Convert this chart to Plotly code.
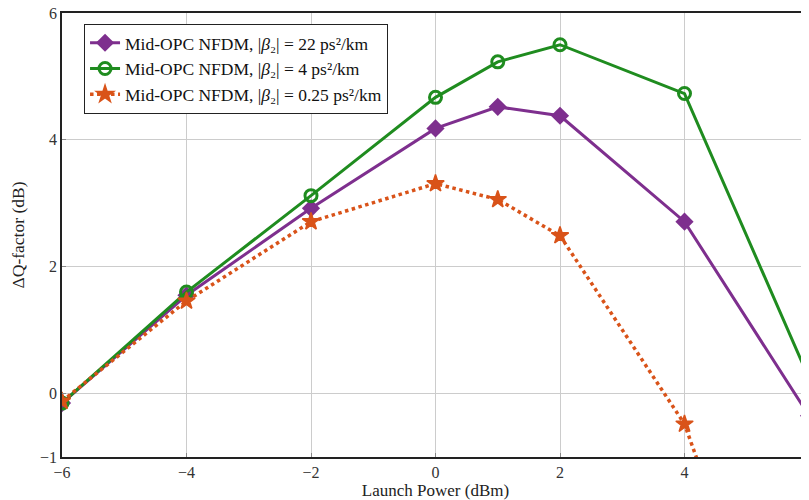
import plotly.graph_objects as go

x = [-6, -4, -2, 0, 1, 2, 4, 6]
q_22 = [-0.15, 1.55, 2.92, 4.18, 4.52, 4.38, 2.71, -0.35]
q_4 = [-0.15, 1.6, 3.12, 4.67, 5.23, 5.5, 4.73, 0.24]
q_025 = [-0.12, 1.46, 2.71, 3.31, 3.06, 2.49, -0.48, -6.0]

names = [
    "Mid-OPC NFDM, |<i>β</i>\u2082| = 22 ps\u00b2/km",
    "Mid-OPC NFDM, |<i>β</i>\u2082| = 4 ps\u00b2/km",
    "Mid-OPC NFDM, |<i>β</i>\u2082| = 0.25 ps\u00b2/km",
]
xticks = [-6, -4, -2, 0, 2, 4, 6]
yticks = [-1, 0, 2, 4, 6]

purple = "#7E2F8E"
green = "#1F8C1F"
orange = "#D95319"

FONT = "Liberation Serif"

fig = go.Figure()
fig.add_trace(go.Scatter(
    x=x, y=q_22, name=names[0], mode="lines+markers",
    line=dict(color=purple, width=3),
    marker=dict(symbol="diamond", size=14, color=purple),
))
fig.add_trace(go.Scatter(
    x=x, y=q_4, name=names[1], mode="lines+markers",
    line=dict(color=green, width=3),
    marker=dict(symbol="circle-open", size=12, color=green, line=dict(width=3)),
))
fig.add_trace(go.Scatter(
    x=x, y=q_025, name=names[2], mode="lines+markers",
    line=dict(color=orange, width=3.5, dash="dot"),
    marker=dict(symbol="star", size=13, color=orange, line=dict(color=orange, width=1.5)),
))

def tl(v):
    return ("\u2212" + str(abs(v))) if v < 0 else str(v)

fig.update_layout(
    width=801, height=492,
    margin=dict(l=54, r=0, t=5, b=43, autoexpand=False),
    paper_bgcolor="white", plot_bgcolor="white",
    font=dict(family=FONT, size=16, color="#222"),
    showlegend=True,
    legend=dict(
        x=0.0295, y=0.9755, xanchor="left", yanchor="top",
        bordercolor="#222", borderwidth=1, bgcolor="white",
        font=dict(family=FONT, size=17.5, color="#111"),
        tracegroupgap=0, itemwidth=30,
    ),
)
fig.update_xaxes(
    range=[-6, 6], tickvals=xticks, ticktext=[tl(v) for v in xticks],
    showgrid=True, gridcolor="#cccccc", gridwidth=1,
    showline=True, linecolor="#222", linewidth=1.5, mirror=True,
    ticks="inside", ticklen=4, tickcolor="#888",
    zeroline=False, automargin=False, ticklabeloverflow="allow",
    tickfont=dict(family=FONT, size=16, color="#333"),
    title=dict(text="Launch Power (dBm)", font=dict(family=FONT, size=17, color="#222"), standoff=7),
)
fig.update_yaxes(
    range=[-1, 6], tickvals=yticks, ticktext=[tl(v) for v in yticks],
    showgrid=True, gridcolor="#cccccc", gridwidth=1,
    showline=True, linecolor="#222", linewidth=1.5, mirror=True,
    ticks="inside", ticklen=4, tickcolor="#888",
    zeroline=False, automargin=False, ticklabeloverflow="allow",
    tickfont=dict(family=FONT, size=16, color="#333"),
    title=dict(text="ΔQ-factor (dB)", font=dict(family=FONT, size=17.5, color="#222"), standoff=14),
)

fig.write_html("out.html")
